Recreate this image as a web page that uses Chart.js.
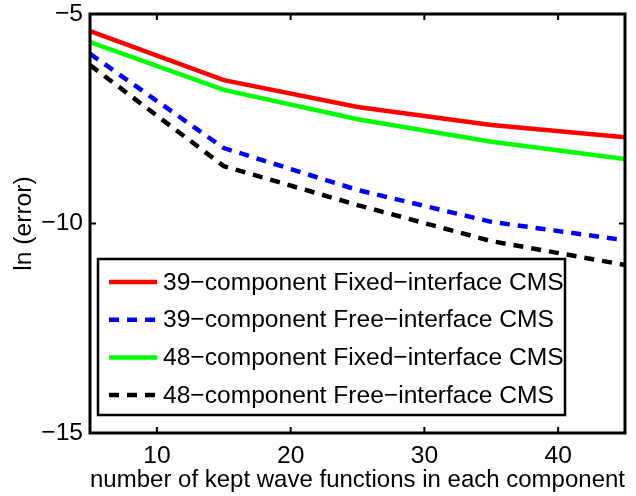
<!DOCTYPE html>
<html>
<head>
<meta charset="utf-8">
<script src="https://cdn.jsdelivr.net/npm/chart.js@4.4.1/dist/chart.umd.min.js"></script>
<style>
  html, body { margin: 0; padding: 0; background: #fff; }
  #errChart { display: block; }
</style>
</head>
<body>
<canvas id="errChart" width="636" height="496"></canvas>
<script>
// kept wave functions per component (x) and ln(error) for each method
const keptWaves = [5, 15, 25, 35, 45];
const fixed39 = [-5.41, -6.58, -7.22, -7.65, -7.94];
const free39 = [-5.95, -8.2, -9.2, -9.96, -10.4];
const fixed48 = [-5.67, -6.81, -7.51, -8.05, -8.46];
const free48 = [-6.22, -8.63, -9.56, -10.42, -10.99];

const seriesNames = [
    '39\u2212component Fixed\u2212interface CMS',
    '39\u2212component Free\u2212interface CMS',
    '48\u2212component Fixed\u2212interface CMS',
    '48\u2212component Free\u2212interface CMS'
];
const xTicks = [10, 20, 30, 40];
const yTicks = [-15, -10, -5];

const FONT = 'Liberation Sans, Arial, Helvetica, sans-serif';
const FSIZE = 24.6;

const toPoints = (ys) => keptWaves.map((x, i) => ({ x: x, y: ys[i] }));

const makeSet = (label, ys, color, dashed) => ({
    label: label,
    data: toPoints(ys),
    borderColor: color,
    backgroundColor: color,
    borderWidth: 4.5,
    borderDash: dashed ? [10, 8] : [],
    pointRadius: 0,
    tension: 0,
    fill: false
});

// axes box with inward ticks on all four sides (matlab style)
const boxPlugin = {
    id: 'boxPlugin',
    afterDatasetsDraw(chart) {
        const { ctx, chartArea: a, scales } = chart;
        const len = 6;
        ctx.save();
        ctx.strokeStyle = '#000';
        ctx.lineWidth = 3;
        ctx.strokeRect(a.left, a.top, a.right - a.left, a.bottom - a.top);
        ctx.lineWidth = 2;
        ctx.beginPath();
        xTicks.forEach(v => {
            const px = scales.x.getPixelForValue(v);
            ctx.moveTo(px, a.bottom); ctx.lineTo(px, a.bottom - len);
            ctx.moveTo(px, a.top); ctx.lineTo(px, a.top + len);
        });
        yTicks.forEach(v => {
            const py = scales.y.getPixelForValue(v);
            ctx.moveTo(a.left, py); ctx.lineTo(a.left + len, py);
            ctx.moveTo(a.right, py); ctx.lineTo(a.right - len, py);
        });
        ctx.stroke();
        ctx.restore();
    }
};

// boxed legend inside the plot, lower left
const legendBox = {
    id: 'legendBox',
    afterDraw(chart) {
        const { ctx, chartArea: a } = chart;
        const x0 = a.left + 8, y0 = a.top + 245;
        const w = 467, h = 156;
        ctx.save();
        ctx.fillStyle = '#fff';
        ctx.fillRect(x0, y0, w, h);
        ctx.strokeStyle = '#000';
        ctx.lineWidth = 2.5;
        ctx.strokeRect(x0, y0, w, h);
        ctx.font = FSIZE + 'px ' + FONT;
        ctx.textBaseline = 'middle';
        ctx.fillStyle = '#000';
        chart.data.datasets.forEach((ds, i) => {
            const y = y0 + 23 + i * 37.7;
            ctx.strokeStyle = ds.borderColor;
            ctx.lineWidth = ds.borderWidth;
            ctx.setLineDash(ds.borderDash);
            ctx.beginPath();
            ctx.moveTo(x0 + 11, y);
            ctx.lineTo(x0 + 59, y);
            ctx.stroke();
            ctx.setLineDash([]);
            ctx.fillText(ds.label, x0 + 65, y + 1);
        });
        ctx.restore();
    }
};

document.addEventListener('DOMContentLoaded', () => {
    const ctx = document.getElementById('errChart').getContext('2d');
    new Chart(ctx, {
        type: 'line',
        data: {
            datasets: [
                makeSet(seriesNames[0], fixed39, '#ff0000', false),
                makeSet(seriesNames[1], free39, '#0000ff', true),
                makeSet(seriesNames[2], fixed48, '#00ff00', false),
                makeSet(seriesNames[3], free48, '#000000', true)
            ]
        },
        options: {
            responsive: false,
            animation: false,
            layout: { padding: { top: 14, right: 11, left: 0, bottom: 0 } },
            plugins: {
                legend: { display: false },
                tooltip: { enabled: false }
            },
            scales: {
                x: {
                    type: 'linear',
                    min: 5,
                    max: 45,
                    afterBuildTicks: (scale) => { scale.ticks = xTicks.map(v => ({ value: v })); },
                    afterFit: (scale) => {
                        scale.height = 63;
                        scale.paddingLeft = 0;
                        scale.paddingRight = 0;
                    },
                    grid: { display: false, drawTicks: false },
                    border: { display: false },
                    ticks: {
                        color: '#000',
                        padding: 8,
                        maxRotation: 0,
                        font: { family: FONT, size: FSIZE }
                    },
                    title: {
                        display: true,
                        text: 'number of kept wave functions in each component',
                        color: '#000',
                        padding: { top: 0, bottom: 1 },
                        font: { family: FONT, size: FSIZE }
                    }
                },
                y: {
                    type: 'linear',
                    min: -15,
                    max: -5,
                    afterBuildTicks: (scale) => { scale.ticks = yTicks.map(v => ({ value: v })); },
                    afterFit: (scale) => {
                        scale.width = 90;
                        scale.paddingTop = 0;
                        scale.paddingBottom = 0;
                    },
                    grid: { display: false, drawTicks: false },
                    border: { display: false },
                    ticks: {
                        color: '#000',
                        padding: 7,
                        font: { family: FONT, size: FSIZE },
                        callback: (v) => String(v).replace('-', '\u2212')
                    },
                    title: {
                        display: true,
                        text: 'ln (error)',
                        color: '#000',
                        padding: { top: 9, bottom: 0 },
                        font: { family: FONT, size: FSIZE }
                    }
                }
            }
        },
        plugins: [boxPlugin, legendBox]
    });
});
</script>
</body>
</html>
